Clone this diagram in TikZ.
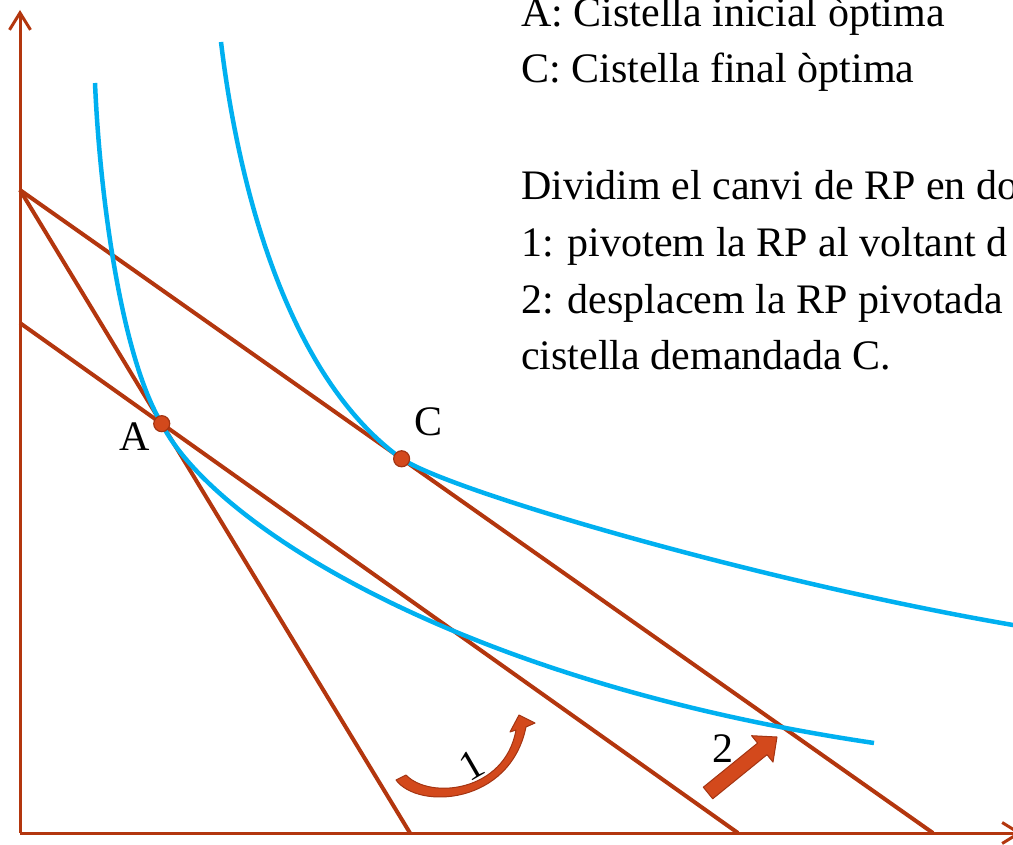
\documentclass[tikz,border=0pt]{standalone}
\usepackage{fontspec}
\setmainfont{Liberation Serif}
\usetikzlibrary{arrows.meta, calc}
\definecolor{icblue}{RGB}{0,176,240}
\definecolor{rpred}{RGB}{179,54,14}
\definecolor{dotred}{RGB}{211,73,28}
\definecolor{dotrim}{RGB}{163,52,18}

\begin{document}
\begin{tikzpicture}[x=1pt, y=-1pt, font=\fontsize{42}{56.7}\selectfont, axis/.style={draw=rpred, line width=3pt, -{Straight Barb[length=17pt, width=21pt]}}, rp/.style={draw=rpred, line width=4pt}, ic/.style={draw=icblue, line width=4.5pt}, basket/.style={circle, fill=dotred, draw=dotrim, line width=1.2pt, minimum size=16pt, inner sep=0pt}, lbl/.style={inner sep=0pt}, bigarrow/.style={fill=dotred, draw=dotrim, line width=1pt, line join=round}]
\clip (0,0) rectangle (1013,845);
\coordinate (O) at (20,833);
\coordinate (ytop) at (20,10);
\coordinate (xend) at (1022,833);
\coordinate (y1) at (20,190);
\coordinate (x1) at (410,833);
\coordinate (y2) at (20,323);
\coordinate (x2) at (738,833);
\coordinate (x3) at (933,833);
\coordinate (A) at (intersection of y1--x1 and y2--x2);
\coordinate (C) at ($(y1)!0.418!(x3)$);
\draw[axis] (O) -- (ytop);
\draw[axis] (O) -- (xend);
\draw[rp] (y1) -- (x1);
\draw[rp] (y2) -- (x2);
\draw[rp] (y1) -- (x3);
\draw[ic] (95,83) .. controls (100,200) and (122,358) .. (A) .. controls (210,520) and (450,680) .. (874,743);
\draw[ic] (221,42) .. controls (240,200) and (292,380) .. (C) .. controls (452,492) and (763,582) .. (1013,625) -- (1020,626);
\node[basket] (ptA) at (A) {};
\node[basket] (ptC) at (C) {};
\node[lbl] (labA) at (135,437) {A};
\node[lbl] (labC) at (429,422) {C};
\filldraw[bigarrow] (396,780) .. controls (418,810) and (510,805) .. (526,727) -- (535,723) -- (519,715) -- (510,732) -- (516,730) .. controls (505,792) and (430,800) .. (406,775) -- cycle;
\filldraw[bigarrow] (703.3,787.2) -- (757.6,743.1) -- (751.6,735.7) -- (777,737) -- (773,762.1) -- (767,754.7) -- (712.7,798.8) -- cycle;
\node[lbl, rotate=30] (step1) at (472,765) {1};
\node[lbl] (step2) at (723,749) {2};
\node[lbl, anchor=base west, align=left] (defs) at (521,83) {A: Cistella inicial òptima\\C: Cistella final òptima};
\node[lbl, anchor=base west, align=left] (expl) at (521,370) {Dividim el canvi de RP en do\\1: pivotem la RP al voltant d\\2: desplacem la RP pivotada\\cistella demandada C.};
\end{tikzpicture}
\end{document}
